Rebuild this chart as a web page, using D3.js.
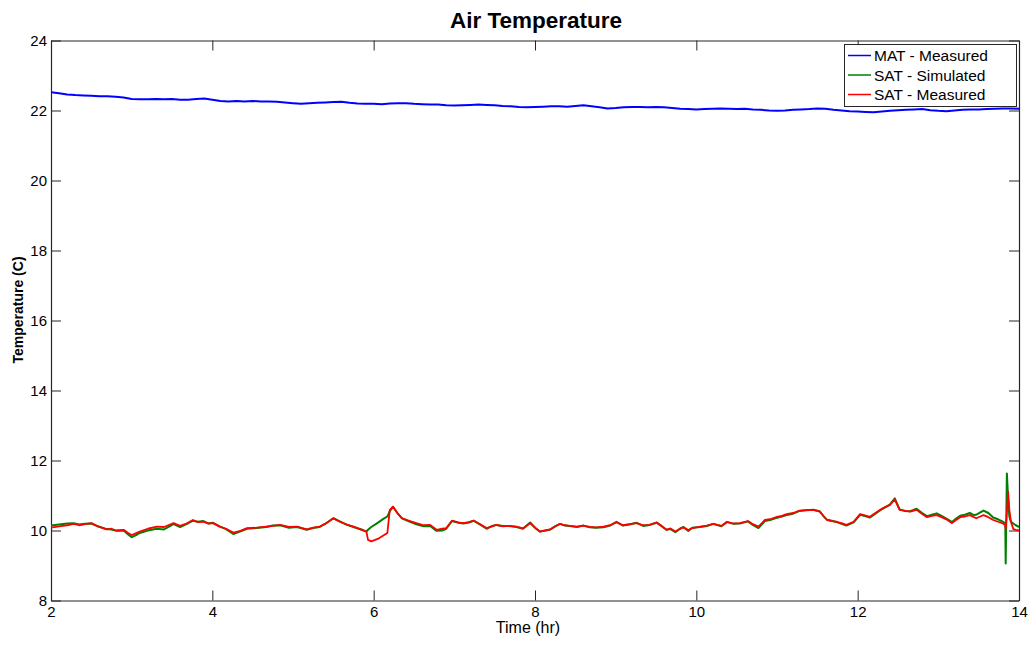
<!DOCTYPE html>
<html>
<head>
<meta charset="utf-8">
<script src="https://cdn.jsdelivr.net/npm/d3@7"></script>
<style>
  html, body { margin: 0; padding: 0; background: #fff; }
  svg { display: block; font-family: "Liberation Sans", Arial, Helvetica, sans-serif; }
</style>
</head>
<body>
<svg id="chart" width="1032" height="647"></svg>
<script>
// ---------------- DATA ----------------
const title = "Air Temperature";
const xLabel = "Time (hr)";
const yLabel = "Temperature (C)";
const xTicks = [2, 4, 6, 8, 10, 12, 14];
const yTicks = [8, 10, 12, 14, 16, 18, 20, 22, 24];
const seriesNames = ["MAT - Measured", "SAT - Simulated", "SAT - Measured"];
const seriesColors = ["#0000ff", "#008000", "#ff0000"];

// MAT - Measured, sampled every 0.1 hr from 2 to 14
const matTime = [
  2.0,2.1,2.2,2.3,2.4,2.5,2.6,2.7,2.8,2.9,3.0,3.1,3.2,3.3,3.4,3.5,3.6,3.7,3.8,3.9,
  4.0,4.1,4.2,4.3,4.4,4.5,4.6,4.7,4.8,4.9,5.0,5.1,5.2,5.3,5.4,5.5,5.6,5.7,5.8,5.9,
  6.0,6.1,6.2,6.3,6.4,6.5,6.6,6.7,6.8,6.9,7.0,7.1,7.2,7.3,7.4,7.5,7.6,7.7,7.8,7.9,
  8.0,8.1,8.2,8.3,8.4,8.5,8.6,8.7,8.8,8.9,9.0,9.1,9.2,9.3,9.4,9.5,9.6,9.7,9.8,9.9,
  10.0,10.1,10.2,10.3,10.4,10.5,10.6,10.7,10.8,10.9,11.0,11.1,11.2,11.3,11.4,11.5,11.6,11.7,11.8,11.9,
  12.0,12.1,12.2,12.3,12.4,12.5,12.6,12.7,12.8,12.9,13.0,13.1,13.2,13.3,13.4,13.5,13.6,13.7,13.8,13.9,14.0
];
const matMeasured = [
  22.52,22.49,22.46,22.44,22.43,22.42,22.41,22.41,22.39,22.37,22.33,22.32,22.32,22.33,22.32,22.33,22.31,22.31,22.33,22.34,
  22.31,22.27,22.26,22.27,22.26,22.27,22.26,22.26,22.25,22.23,22.21,22.19,22.21,22.22,22.23,22.24,22.25,22.22,22.20,22.19,
  22.19,22.18,22.20,22.21,22.21,22.19,22.18,22.17,22.17,22.15,22.14,22.15,22.16,22.17,22.16,22.15,22.13,22.12,22.10,22.09,
  22.10,22.11,22.12,22.12,22.11,22.13,22.15,22.12,22.09,22.06,22.07,22.09,22.10,22.10,22.09,22.10,22.09,22.07,22.05,22.04,
  22.03,22.04,22.05,22.06,22.05,22.04,22.05,22.03,22.02,22.00,21.99,22.00,22.02,22.03,22.04,22.06,22.05,22.02,22.00,21.98,
  21.97,21.96,21.95,21.97,21.99,22.01,22.02,22.03,22.04,22.01,21.99,21.98,22.00,22.02,22.03,22.03,22.04,22.05,22.06,22.06,22.05
];

// SAT series share one time base
const satTime = [
  2.00,2.10,2.20,2.28,2.35,2.42,2.50,2.58,2.69,2.75,2.81,2.90,2.96,3.00,3.05,3.10,3.20,3.31,3.40,3.52,
  3.60,3.68,3.76,3.82,3.89,3.95,4.01,4.09,4.17,4.26,4.35,4.43,4.55,4.67,4.75,4.84,4.95,5.05,5.17,5.25,
  5.33,5.42,5.50,5.58,5.67,5.75,5.85,5.91,5.93,5.97,6.05,6.12,6.17,6.20,6.24,6.30,6.35,6.45,6.53,6.62,
  6.70,6.78,6.85,6.90,6.97,7.05,7.11,7.18,7.24,7.32,7.40,7.47,7.52,7.60,7.68,7.77,7.85,7.94,8.00,8.06,
  8.12,8.19,8.25,8.31,8.37,8.43,8.52,8.60,8.68,8.76,8.85,8.93,9.01,9.09,9.17,9.26,9.34,9.42,9.51,9.57,
  9.63,9.68,9.74,9.80,9.84,9.90,9.95,10.05,10.13,10.21,10.31,10.38,10.46,10.54,10.64,10.70,10.77,10.85,10.93,11.00,
  11.06,11.12,11.20,11.28,11.36,11.45,11.53,11.58,11.62,11.68,11.74,11.80,11.86,11.95,12.03,12.09,12.15,12.22,12.28,12.34,
  12.40,12.46,12.52,12.58,12.65,12.73,12.80,12.86,12.92,12.98,13.04,13.10,13.17,13.22,13.27,13.33,13.39,13.44,13.47,13.52,
  13.56,13.62,13.68,13.74,13.80,13.83,13.835,13.85,13.865,13.88,13.90,13.93,13.96,14.00
];
const satSimulated = [
  10.14,10.17,10.20,10.21,10.17,10.19,10.20,10.12,10.04,10.03,9.99,10.00,9.88,9.81,9.86,9.93,10.00,10.05,10.03,10.18,
  10.10,10.18,10.28,10.25,10.27,10.20,10.22,10.12,10.04,9.90,9.98,10.05,10.07,10.10,10.14,10.15,10.08,10.10,10.02,10.07,
  10.10,10.22,10.35,10.26,10.16,10.10,10.03,9.97,10.02,10.10,10.22,10.33,10.40,10.55,10.68,10.48,10.35,10.25,10.18,10.12,
  10.13,9.99,10.00,10.05,10.27,10.22,10.20,10.23,10.28,10.17,10.05,10.13,10.16,10.13,10.13,10.10,10.05,10.23,10.08,9.97,
  9.99,10.03,10.12,10.19,10.14,10.13,10.10,10.14,10.09,10.08,10.09,10.14,10.25,10.14,10.17,10.22,10.13,10.16,10.22,10.13,
  10.02,10.04,9.95,10.05,10.10,9.99,10.08,10.10,10.13,10.19,10.12,10.24,10.19,10.20,10.26,10.16,10.07,10.27,10.31,10.36,
  10.40,10.44,10.48,10.56,10.58,10.59,10.55,10.40,10.31,10.28,10.24,10.19,10.14,10.23,10.45,10.41,10.37,10.48,10.58,10.66,
  10.74,10.92,10.60,10.56,10.55,10.62,10.50,10.41,10.45,10.49,10.42,10.34,10.24,10.34,10.42,10.45,10.50,10.44,10.45,10.52,
  10.57,10.50,10.37,10.32,10.25,10.21,9.06,11.63,10.90,10.40,10.25,10.20,10.15,10.10
];
const satMeasured = [
  10.08,10.12,10.15,10.19,10.15,10.18,10.21,10.12,10.03,10.05,10.00,10.02,9.92,9.87,9.92,9.97,10.05,10.11,10.10,10.21,
  10.13,10.20,10.30,10.24,10.25,10.20,10.21,10.11,10.05,9.94,9.99,10.07,10.08,10.11,10.13,10.16,10.10,10.11,10.03,10.08,
  10.11,10.22,10.35,10.25,10.17,10.11,10.02,9.97,9.73,9.69,9.76,9.86,9.93,10.59,10.68,10.48,10.35,10.27,10.21,10.15,
  10.16,10.02,10.05,10.07,10.28,10.23,10.21,10.24,10.28,10.18,10.07,10.12,10.16,10.12,10.13,10.11,10.06,10.21,10.08,9.97,
  10.00,10.03,10.12,10.19,10.15,10.13,10.11,10.14,10.10,10.09,10.11,10.15,10.23,10.15,10.18,10.21,10.15,10.16,10.23,10.12,
  10.02,10.06,9.97,10.06,10.09,10.01,10.07,10.11,10.14,10.19,10.13,10.25,10.20,10.21,10.27,10.18,10.11,10.30,10.33,10.39,
  10.42,10.47,10.50,10.57,10.58,10.59,10.54,10.40,10.30,10.27,10.25,10.21,10.16,10.25,10.47,10.43,10.39,10.50,10.59,10.67,
  10.73,10.89,10.59,10.57,10.54,10.59,10.47,10.38,10.42,10.44,10.38,10.32,10.21,10.30,10.38,10.40,10.44,10.38,10.35,10.40,
  10.44,10.38,10.30,10.25,10.20,10.15,10.05,10.50,11.11,10.60,10.25,10.04,10.02,10.00
];

// ---------------- CHART ----------------
const svg = d3.select("#chart");
const W = 1032, H = 647;
const plot = { left: 51, right: 1019, top: 40.5, bottom: 600.5 };
const axisColor = "#262626";
const fontFam = "'Liberation Sans', Arial, Helvetica, sans-serif";

const x = d3.scaleLinear().domain([2, 14]).range([plot.left, plot.right]);
const y = d3.scaleLinear().domain([8, 24]).range([plot.bottom, plot.top]);

svg.append("rect").attr("width", W).attr("height", H).attr("fill", "#fff");

svg.append("defs").append("clipPath").attr("id", "clip")
  .append("rect").attr("x", plot.left).attr("y", plot.top)
  .attr("width", plot.right - plot.left).attr("height", plot.bottom - plot.top);

// Axes (ticks inward, mirrored box)
const tickLen = 10;
const xAxisB = d3.axisBottom(x).tickValues(xTicks).tickSizeInner(-tickLen).tickSizeOuter(0).tickPadding(6).tickFormat(d3.format("d"));
const xAxisT = d3.axisTop(x).tickValues(xTicks).tickSizeInner(-tickLen).tickSizeOuter(0).tickFormat("");
const yAxisL = d3.axisLeft(y).tickValues(yTicks).tickSizeInner(-tickLen).tickSizeOuter(0).tickPadding(4).tickFormat(d3.format("d"));
const yAxisR = d3.axisRight(y).tickValues(yTicks).tickSizeInner(-tickLen).tickSizeOuter(0).tickFormat("");

function styleAxis(g) {
  g.select(".domain").attr("stroke", axisColor).attr("stroke-width", 1.2);
  g.selectAll(".tick line").attr("stroke", axisColor).attr("stroke-width", 1);
  g.selectAll(".tick text").attr("fill", "#000").attr("font-size", 15).attr("font-family", fontFam);
}

svg.append("g").attr("transform", `translate(0,${plot.bottom})`).call(xAxisB).call(styleAxis);
svg.append("g").attr("transform", `translate(0,${plot.top})`).call(xAxisT).call(styleAxis);
svg.append("g").attr("transform", `translate(${plot.left},0)`).call(yAxisL).call(styleAxis);
svg.append("g").attr("transform", `translate(${plot.right},0)`).call(yAxisR).call(styleAxis);

// Lines
const lines = svg.append("g").attr("clip-path", "url(#clip)");
const mkLine = (times, vals) => d3.line().x((d, i) => x(times[i])).y(d => y(d))(vals);

lines.append("path").attr("d", mkLine(matTime, matMeasured))
  .attr("fill", "none").attr("stroke", seriesColors[0]).attr("stroke-width", 2).attr("stroke-linejoin", "round");
lines.append("path").attr("d", mkLine(satTime, satSimulated))
  .attr("fill", "none").attr("stroke", seriesColors[1]).attr("stroke-width", 2).attr("stroke-linejoin", "round");
lines.append("path").attr("d", mkLine(satTime, satMeasured))
  .attr("fill", "none").attr("stroke", seriesColors[2]).attr("stroke-width", 1.8).attr("stroke-linejoin", "round");

// Title & labels
svg.append("text").attr("x", 536).attr("y", 28)
  .attr("text-anchor", "middle").attr("font-size", 22.5).attr("font-weight", "bold").text(title);
svg.append("text").attr("x", 528).attr("y", 633)
  .attr("text-anchor", "middle").attr("font-size", 16).text(xLabel);
svg.append("text").attr("transform", `translate(23,310) rotate(-90)`)
  .attr("text-anchor", "middle").attr("font-size", 14).attr("font-weight", "bold").text(yLabel);

// Legend
const lg = svg.append("g");
lg.append("rect").attr("x", 844.5).attr("y", 44.5).attr("width", 172).attr("height", 62)
  .attr("fill", "#fff").attr("stroke", axisColor).attr("stroke-width", 1);
seriesNames.forEach((name, i) => {
  const yy = 55.5 + i * 19.5;
  lg.append("line").attr("x1", 848).attr("x2", 871).attr("y1", yy).attr("y2", yy)
    .attr("stroke", seriesColors[i]).attr("stroke-width", 1.5);
  lg.append("text").attr("x", 874).attr("y", yy + 5.5).attr("font-size", 15.5).text(name);
});
</script>
</body>
</html>
